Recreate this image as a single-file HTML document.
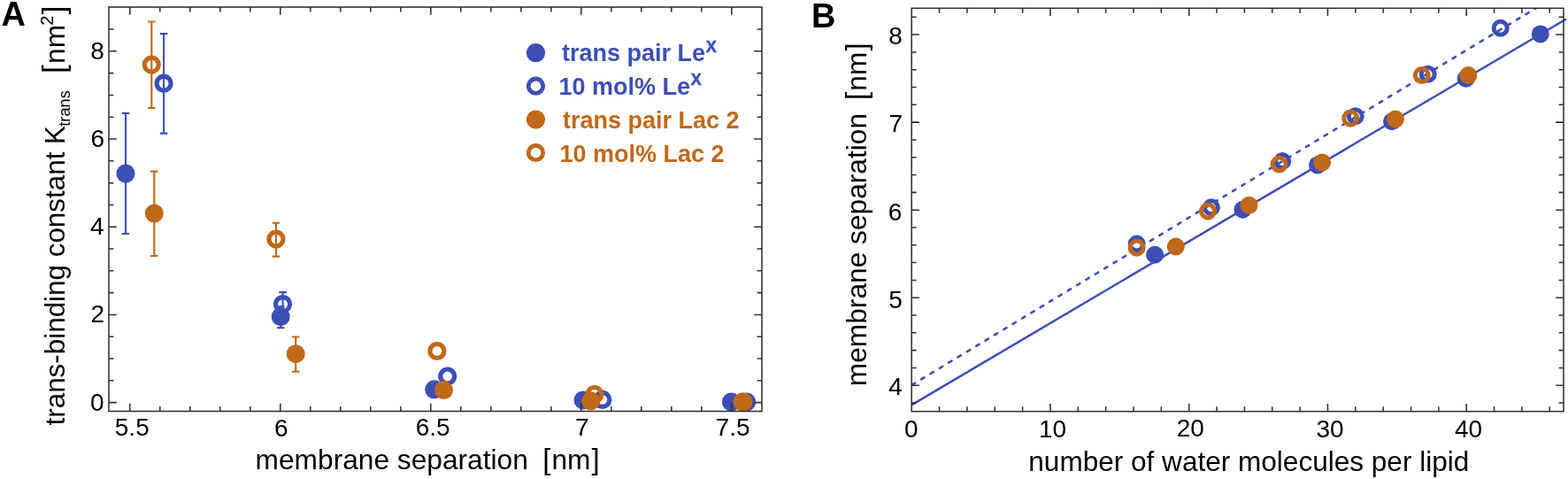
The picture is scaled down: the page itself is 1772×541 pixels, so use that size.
<!DOCTYPE html>
<html><head><meta charset="utf-8"><title>Figure</title>
<style>
html,body{margin:0;padding:0;background:#fff;}
body{width:1772px;height:541px;overflow:hidden;}
svg{display:block;}
text{font-family:"Liberation Sans",Arial,sans-serif;}
</style></head><body>
<svg width="1772" height="541" viewBox="0 0 1772 541">
<rect width="1772" height="541" fill="#fff"/>
<path d="M185.1 38.15V150.65M180.85 38.15h8.5M180.85 150.65h8.5" stroke="#3b4fb6" stroke-width="2.1" fill="none"/>
<circle cx="185.1" cy="94.2" r="8" fill="none" stroke="#3b4fb6" stroke-width="5.2"/>
<path d="M319.6 330.15V356.35M315.35 330.15h8.5M315.35 356.35h8.5" stroke="#3b4fb6" stroke-width="2.1" fill="none"/>
<circle cx="319.6" cy="343.6" r="8" fill="none" stroke="#3b4fb6" stroke-width="5.2"/>
<circle cx="505.7" cy="425" r="8" fill="none" stroke="#3b4fb6" stroke-width="5.2"/>
<circle cx="680.8" cy="451.4" r="8" fill="none" stroke="#3b4fb6" stroke-width="5.2"/>
<circle cx="843.6" cy="454" r="8" fill="none" stroke="#3b4fb6" stroke-width="5.2"/>
<path d="M142 127.85V264.05M137.75 127.85h8.5M137.75 264.05h8.5" stroke="#3b4fb6" stroke-width="2.1" fill="none"/>
<circle cx="142" cy="196" r="10.5" fill="#3b4fb6"/>
<path d="M317.2 346.35V370.25M312.95 346.35h8.5M312.95 370.25h8.5" stroke="#3b4fb6" stroke-width="2.1" fill="none"/>
<circle cx="317.2" cy="357.7" r="10.5" fill="#3b4fb6"/>
<circle cx="490.7" cy="439.8" r="10.5" fill="#3b4fb6"/>
<circle cx="659" cy="451.9" r="10.5" fill="#3b4fb6"/>
<circle cx="826.4" cy="454" r="10.5" fill="#3b4fb6"/>
<path d="M171.3 24.55V122.05M167.05 24.55h8.5M167.05 122.05h8.5" stroke="#c16819" stroke-width="2.1" fill="none"/>
<circle cx="171.3" cy="73.1" r="8" fill="none" stroke="#c16819" stroke-width="5.2"/>
<path d="M312 251.75V289.65M307.75 251.75h8.5M307.75 289.65h8.5" stroke="#c16819" stroke-width="2.1" fill="none"/>
<circle cx="312" cy="270.1" r="8" fill="none" stroke="#c16819" stroke-width="5.2"/>
<circle cx="493.9" cy="396.5" r="8" fill="none" stroke="#c16819" stroke-width="5.2"/>
<circle cx="671.9" cy="445.5" r="8" fill="none" stroke="#c16819" stroke-width="5.2"/>
<circle cx="840" cy="454" r="8" fill="none" stroke="#c16819" stroke-width="5.2"/>
<path d="M174.3 193.65V289.05M170.05 193.65h8.5M170.05 289.05h8.5" stroke="#c16819" stroke-width="2.1" fill="none"/>
<circle cx="174.3" cy="241" r="10.5" fill="#c16819"/>
<path d="M334.2 380.55V419.75M329.95 380.55h8.5M329.95 419.75h8.5" stroke="#c16819" stroke-width="2.1" fill="none"/>
<circle cx="334.2" cy="399.7" r="10.5" fill="#c16819"/>
<circle cx="501.5" cy="440.6" r="10.5" fill="#c16819"/>
<circle cx="667.7" cy="452.8" r="10.5" fill="#c16819"/>
<circle cx="839.1" cy="454" r="10.5" fill="#c16819"/>
<path d="M146.8 464.5v-8.8M146.8 8v8.8M180.8 464.5v-5.4M180.8 8v5.4M214.8 464.5v-5.4M214.8 8v5.4M248.8 464.5v-5.4M248.8 8v5.4M282.8 464.5v-5.4M282.8 8v5.4M316.8 464.5v-8.8M316.8 8v8.8M350.8 464.5v-5.4M350.8 8v5.4M384.8 464.5v-5.4M384.8 8v5.4M418.8 464.5v-5.4M418.8 8v5.4M452.8 464.5v-5.4M452.8 8v5.4M486.8 464.5v-8.8M486.8 8v8.8M520.8 464.5v-5.4M520.8 8v5.4M554.8 464.5v-5.4M554.8 8v5.4M588.8 464.5v-5.4M588.8 8v5.4M622.8 464.5v-5.4M622.8 8v5.4M656.8 464.5v-8.8M656.8 8v8.8M690.8 464.5v-5.4M690.8 8v5.4M724.8 464.5v-5.4M724.8 8v5.4M758.8 464.5v-5.4M758.8 8v5.4M792.8 464.5v-5.4M792.8 8v5.4M826.8 464.5v-8.8M826.8 8v8.8M123 454.6h8.8M861 454.6h-8.8M123 429.8h5.4M861 429.8h-5.4M123 405h5.4M861 405h-5.4M123 380.2h5.4M861 380.2h-5.4M123 355.4h8.8M861 355.4h-8.8M123 330.6h5.4M861 330.6h-5.4M123 305.8h5.4M861 305.8h-5.4M123 281h5.4M861 281h-5.4M123 256.2h8.8M861 256.2h-8.8M123 231.4h5.4M861 231.4h-5.4M123 206.6h5.4M861 206.6h-5.4M123 181.8h5.4M861 181.8h-5.4M123 157h8.8M861 157h-8.8M123 132.2h5.4M861 132.2h-5.4M123 107.4h5.4M861 107.4h-5.4M123 82.6h5.4M861 82.6h-5.4M123 57.8h8.8M861 57.8h-8.8M123 33h5.4M861 33h-5.4" stroke="#303030" stroke-width="1.55" fill="none"/>
<rect x="123" y="8" width="738" height="456.5" stroke="#303030" stroke-width="1.55" fill="none"/>
<text x="129.8" y="492.2" font-family="Liberation Sans, Arial, sans-serif" font-size="28" fill="#000">5.5</text>
<text x="310.1" y="492.6" font-family="Liberation Sans, Arial, sans-serif" font-size="28" fill="#000">6</text>
<text x="469.7" y="492.2" font-family="Liberation Sans, Arial, sans-serif" font-size="28" fill="#000">6.5</text>
<text x="649.9" y="491.6" font-family="Liberation Sans, Arial, sans-serif" font-size="28" fill="#000">7</text>
<text x="808.6" y="492.2" font-family="Liberation Sans, Arial, sans-serif" font-size="28" fill="#000">7.5</text>
<text x="102.1" y="463.8" font-family="Liberation Sans, Arial, sans-serif" font-size="28" fill="#000">0</text>
<text x="102.4" y="363.9" font-family="Liberation Sans, Arial, sans-serif" font-size="28" fill="#000">2</text>
<text x="101.9" y="264.9" font-family="Liberation Sans, Arial, sans-serif" font-size="28" fill="#000">4</text>
<text x="102.4" y="165.9" font-family="Liberation Sans, Arial, sans-serif" font-size="28" fill="#000">6</text>
<text x="102.2" y="66.9" font-family="Liberation Sans, Arial, sans-serif" font-size="28" fill="#000">8</text>
<circle cx="605.5" cy="59.7" r="10.6" fill="#3b4fb6"/>
<text x="635" y="69.2" font-family="Liberation Sans, Arial, sans-serif" font-size="27" font-weight="bold" fill="#3b4fb6">trans pair Le<tspan font-size="18" dy="-10.4" dx="0.6" stroke="#3b4fb6" stroke-width="0.5">X</tspan></text>
<circle cx="605.5" cy="97.2" r="8.2" fill="none" stroke="#3b4fb6" stroke-width="4.8"/>
<text x="631.5" y="106.6" font-family="Liberation Sans, Arial, sans-serif" font-size="27" font-weight="bold" fill="#3b4fb6">10 mol% Le<tspan font-size="18" dy="-10.4" dx="0.6" stroke="#3b4fb6" stroke-width="0.5">X</tspan></text>
<circle cx="605.5" cy="135" r="10.6" fill="#c16819"/>
<text x="636" y="144.6" font-family="Liberation Sans, Arial, sans-serif" font-size="27" font-weight="bold" fill="#c16819">trans pair Lac 2</text>
<circle cx="605.5" cy="172.5" r="8.2" fill="none" stroke="#c16819" stroke-width="4.8"/>
<text x="632.5" y="183" font-family="Liberation Sans, Arial, sans-serif" font-size="27" font-weight="bold" fill="#c16819">10 mol% Lac 2</text>
<text x="288.6" y="530.3" font-family="Liberation Sans, Arial, sans-serif" font-size="31.7" fill="#000">membrane separation <tspan font-size="33" dx="7.5">[</tspan><tspan dx="1.1">nm</tspan><tspan font-size="33" dx="1.1">]</tspan></text>
<text transform="translate(72.8,480.5) rotate(-90)" font-family="Liberation Sans, Arial, sans-serif" font-size="31.4" fill="#000">trans-binding constant K<tspan font-size="18.3" dy="6.6" dx="-0.8">trans</tspan></text>
<text transform="translate(72.8,83) rotate(-90)" font-family="Liberation Sans, Arial, sans-serif" font-size="31.7" fill="#000"><tspan font-size="35">[</tspan><tspan dx="1.4">nm</tspan><tspan font-size="20" dy="-13" dx="-0.8">2</tspan><tspan font-size="35" dy="13" dx="1.3">]</tspan></text>
<text x="1.5" y="28.7" font-family="Liberation Sans, Arial, sans-serif" font-size="38" font-weight="bold" fill="#000">A</text>
<text x="917" y="31" font-family="Liberation Sans, Arial, sans-serif" font-size="38" font-weight="bold" fill="#000">B</text>
<defs><clipPath id="cb"><rect x="1030.2" y="9.3" width="736.8" height="455.4"/></clipPath></defs>
<g clip-path="url(#cb)">
</g>
<path d="M1030.2 457.3L1770 21.5" stroke="#3b4fb6" stroke-width="2.5" fill="none"/>
<g clip-path="url(#cb)">
<path d="M1030.2 434.9L1740 6.7" stroke="#3b4fb6" stroke-width="2.6" fill="none" stroke-linecap="round" stroke-dasharray="3.8 8.29" stroke-dashoffset="-0.7"/>
</g>
<circle cx="1284.6" cy="275.5" r="7.5" fill="none" stroke="#3b4fb6" stroke-width="5"/>
<circle cx="1368.9" cy="234.3" r="7.5" fill="none" stroke="#3b4fb6" stroke-width="5"/>
<circle cx="1449.2" cy="182" r="7.5" fill="none" stroke="#3b4fb6" stroke-width="5"/>
<circle cx="1531.8" cy="131.2" r="7.5" fill="none" stroke="#3b4fb6" stroke-width="5"/>
<circle cx="1613.7" cy="83.7" r="7.5" fill="none" stroke="#3b4fb6" stroke-width="5"/>
<circle cx="1695.7" cy="31.7" r="7.5" fill="none" stroke="#3b4fb6" stroke-width="5"/>
<circle cx="1305.1" cy="287.7" r="10" fill="#3b4fb6"/>
<circle cx="1404.4" cy="236.7" r="10" fill="#3b4fb6"/>
<circle cx="1489" cy="186.4" r="10" fill="#3b4fb6"/>
<circle cx="1573" cy="137.3" r="10" fill="#3b4fb6"/>
<circle cx="1656.7" cy="88.7" r="10" fill="#3b4fb6"/>
<circle cx="1740.8" cy="38.4" r="10" fill="#3b4fb6"/>
<circle cx="1284.6" cy="279.8" r="7.5" fill="none" stroke="#c16819" stroke-width="5"/>
<circle cx="1365" cy="238.5" r="7.5" fill="none" stroke="#c16819" stroke-width="5"/>
<circle cx="1445.5" cy="185.5" r="7.5" fill="none" stroke="#c16819" stroke-width="5"/>
<circle cx="1526.2" cy="133.6" r="7.5" fill="none" stroke="#c16819" stroke-width="5"/>
<circle cx="1606.8" cy="85" r="7.5" fill="none" stroke="#c16819" stroke-width="5"/>
<circle cx="1328.8" cy="278.5" r="10" fill="#c16819"/>
<circle cx="1411.5" cy="231.7" r="10" fill="#c16819"/>
<circle cx="1494.1" cy="183.4" r="10" fill="#c16819"/>
<circle cx="1577" cy="134.5" r="10" fill="#c16819"/>
<circle cx="1659.3" cy="85" r="10" fill="#c16819"/>
<path d="M1061.55 464.7v-5.4M1061.55 9.3v5.4M1092.9 464.7v-5.4M1092.9 9.3v5.4M1124.25 464.7v-5.4M1124.25 9.3v5.4M1155.6 464.7v-5.4M1155.6 9.3v5.4M1186.95 464.7v-8.8M1186.95 9.3v8.8M1218.3 464.7v-5.4M1218.3 9.3v5.4M1249.65 464.7v-5.4M1249.65 9.3v5.4M1281 464.7v-5.4M1281 9.3v5.4M1312.35 464.7v-5.4M1312.35 9.3v5.4M1343.7 464.7v-8.8M1343.7 9.3v8.8M1375.05 464.7v-5.4M1375.05 9.3v5.4M1406.4 464.7v-5.4M1406.4 9.3v5.4M1437.75 464.7v-5.4M1437.75 9.3v5.4M1469.1 464.7v-5.4M1469.1 9.3v5.4M1500.45 464.7v-8.8M1500.45 9.3v8.8M1531.8 464.7v-5.4M1531.8 9.3v5.4M1563.15 464.7v-5.4M1563.15 9.3v5.4M1594.5 464.7v-5.4M1594.5 9.3v5.4M1625.85 464.7v-5.4M1625.85 9.3v5.4M1657.2 464.7v-8.8M1657.2 9.3v8.8M1688.55 464.7v-5.4M1688.55 9.3v5.4M1719.9 464.7v-5.4M1719.9 9.3v5.4M1751.25 464.7v-5.4M1751.25 9.3v5.4M1030.2 455.06h5.4M1767 455.06h-5.4M1030.2 435.25h8.8M1767 435.25h-8.8M1030.2 415.44h5.4M1767 415.44h-5.4M1030.2 395.63h5.4M1767 395.63h-5.4M1030.2 375.83h5.4M1767 375.83h-5.4M1030.2 356.02h5.4M1767 356.02h-5.4M1030.2 336.21h8.8M1767 336.21h-8.8M1030.2 316.4h5.4M1767 316.4h-5.4M1030.2 296.59h5.4M1767 296.59h-5.4M1030.2 276.79h5.4M1767 276.79h-5.4M1030.2 256.98h5.4M1767 256.98h-5.4M1030.2 237.17h8.8M1767 237.17h-8.8M1030.2 217.36h5.4M1767 217.36h-5.4M1030.2 197.55h5.4M1767 197.55h-5.4M1030.2 177.75h5.4M1767 177.75h-5.4M1030.2 157.94h5.4M1767 157.94h-5.4M1030.2 138.13h8.8M1767 138.13h-8.8M1030.2 118.32h5.4M1767 118.32h-5.4M1030.2 98.51h5.4M1767 98.51h-5.4M1030.2 78.71h5.4M1767 78.71h-5.4M1030.2 58.9h5.4M1767 58.9h-5.4M1030.2 39.09h8.8M1767 39.09h-8.8M1030.2 19.28h5.4M1767 19.28h-5.4" stroke="#303030" stroke-width="1.55" fill="none"/>
<rect x="1030.2" y="9.3" width="736.8" height="455.4" stroke="#303030" stroke-width="1.55" fill="none"/>
<text x="1022" y="493.6" font-family="Liberation Sans, Arial, sans-serif" font-size="28" fill="#000">0</text>
<text x="1174" y="493.5" font-family="Liberation Sans, Arial, sans-serif" font-size="28" fill="#000">10</text>
<text x="1329.8" y="493.4" font-family="Liberation Sans, Arial, sans-serif" font-size="28" fill="#000">20</text>
<text x="1487.4" y="493.6" font-family="Liberation Sans, Arial, sans-serif" font-size="28" fill="#000">30</text>
<text x="1644" y="493.5" font-family="Liberation Sans, Arial, sans-serif" font-size="28" fill="#000">40</text>
<text x="1004.2" y="446.4" font-family="Liberation Sans, Arial, sans-serif" font-size="28" fill="#000">4</text>
<text x="1004.3" y="347.6" font-family="Liberation Sans, Arial, sans-serif" font-size="28" fill="#000">5</text>
<text x="1003.8" y="248.5" font-family="Liberation Sans, Arial, sans-serif" font-size="28" fill="#000">6</text>
<text x="1004.6" y="149.1" font-family="Liberation Sans, Arial, sans-serif" font-size="28" fill="#000">7</text>
<text x="1004.2" y="49.8" font-family="Liberation Sans, Arial, sans-serif" font-size="28" fill="#000">8</text>
<text x="1411.3" y="532.2" text-anchor="middle" font-family="Liberation Sans, Arial, sans-serif" font-size="31.55" fill="#000">number of water molecules per lipid</text>
<text transform="translate(978.8,436.2) rotate(-90)" font-family="Liberation Sans, Arial, sans-serif" font-size="31.7" fill="#000">membrane separation <tspan font-size="33" dx="6.2">[</tspan><tspan dx="1.1">nm</tspan><tspan font-size="33" dx="1.1">]</tspan></text>
</svg>
</body></html>
